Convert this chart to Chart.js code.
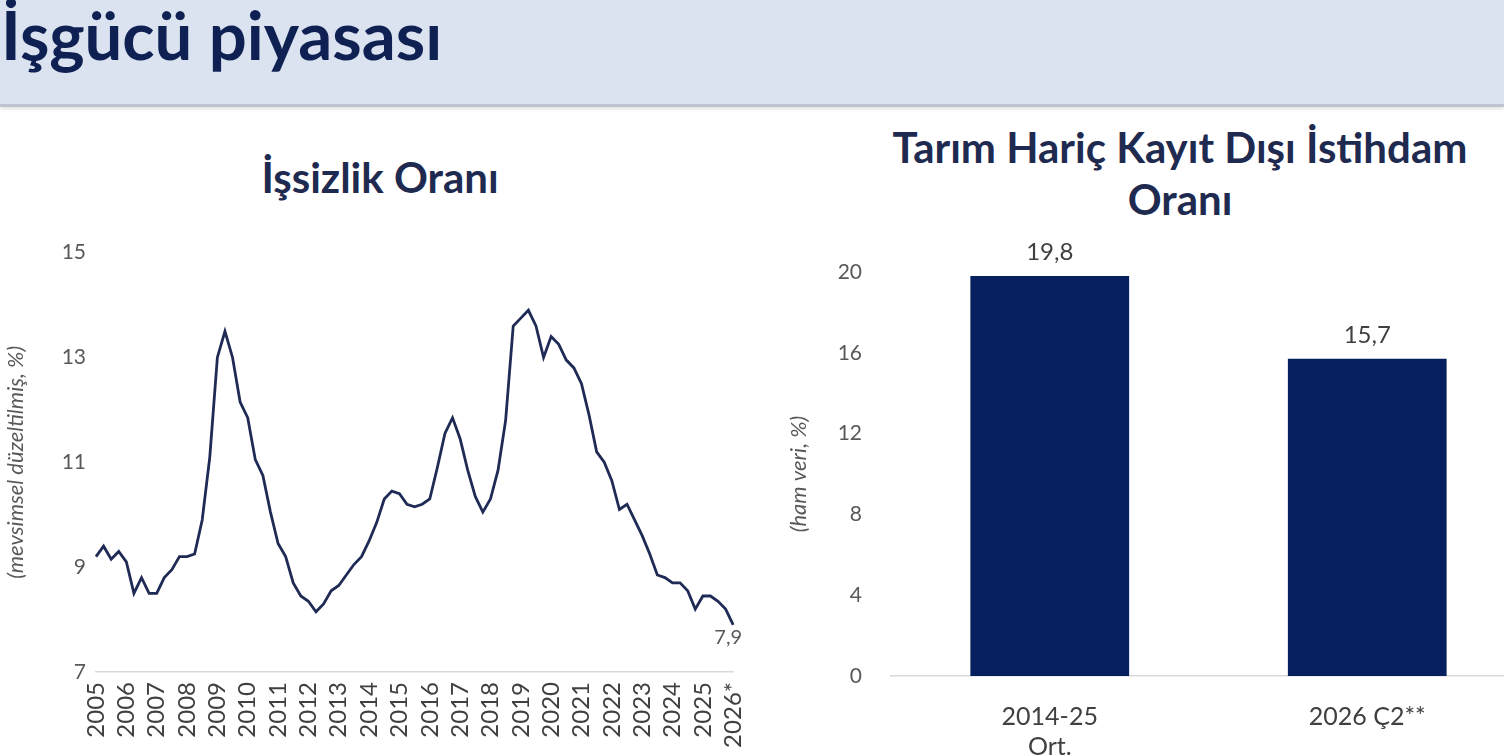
<!DOCTYPE html>
<html lang="tr">
<head>
<meta charset="utf-8">
<script src="https://cdn.jsdelivr.net/npm/chart.js@4.4.1/dist/chart.umd.min.js"></script>
<style>
  html, body { margin: 0; padding: 0; width: 1504px; height: 755px; overflow: hidden; background: #fff; font-family: Lato, sans-serif; }
  #header { position: absolute; left: 0; top: 0; width: 1504px; height: 104px; background: #dbe3f1; border-bottom: 3px solid #bcc4d0; box-shadow: 0 2px 3px rgba(0,0,0,0.12); }
  #header h1 { position: absolute; left: 1px; top: 1px; margin: 0; font: bold 67px/66px Lato, sans-serif; color: #0f2153; white-space: nowrap; }
  .title { position: absolute; text-align: center; font: bold 42px/52px Lato, sans-serif; color: #1f2a50; white-space: nowrap; }
  #box1 { position: absolute; left: 0; top: 230px; width: 772px; height: 525px; }
  #box2 { position: absolute; left: 760px; top: 230px; width: 790px; height: 525px; }
</style>
</head>
<body>
<div id="header"><h1>İşgücü piyasası</h1></div>
<div class="title" style="left:180px; top:151px; width:400px;">İşsizlik Oranı</div>
<div class="title" style="left:880px; top:121px; width:600px;">Tarım Hariç Kayıt Dışı İstihdam<br>Oranı</div>
<div id="box2"><canvas id="informalChart" width="790" height="525"></canvas></div>
<div id="box1"><canvas id="unemploymentChart" width="772" height="525"></canvas></div>

<script>
// İşsizlik oranı, çeyreklik, 2005Ç1 - 2026Ç1 (mevsimsel düzeltilmiş, %)
const yearLabels = ["2005", "2006", "2007", "2008", "2009", "2010", "2011", "2012", "2013", "2014", "2015",
  "2016", "2017", "2018", "2019", "2020", "2021", "2022", "2023", "2024", "2025", "2026*"];

const unemployment = [
  9.2, 9.4, 9.15, 9.3,     // 2005
  9.1, 8.5, 8.8, 8.5,      // 2006
  8.5, 8.8, 8.95, 9.2,     // 2007
  9.2, 9.25, 9.9, 11.1,    // 2008
  13.0, 13.5, 13.0, 12.15, // 2009
  11.85, 11.05, 10.75, 10.05, // 2010
  9.45, 9.2, 8.7, 8.45,    // 2011
  8.35, 8.15, 8.3, 8.55,   // 2012
  8.65, 8.85, 9.05, 9.2,   // 2013
  9.5, 9.85, 10.3, 10.45,  // 2014
  10.4, 10.2, 10.15, 10.2, // 2015
  10.3, 10.9, 11.55, 11.85, // 2016
  11.45, 10.85, 10.35, 10.05, // 2017
  10.3, 10.85, 11.8, 13.6, // 2018
  13.75, 13.9, 13.6, 13.0, // 2019
  13.4, 13.25, 12.95, 12.8, // 2020
  12.5, 11.9, 11.2, 11.0,  // 2021
  10.65, 10.1, 10.2, 9.9,  // 2022
  9.6, 9.25, 8.85, 8.8,    // 2023
  8.7, 8.7, 8.55, 8.2,     // 2024
  8.45, 8.45, 8.35, 8.2,   // 2025
  7.9                      // 2026
];

const unemploymentTicks = [7, 9, 11, 13, 15];

// Tarım hariç kayıt dışı istihdam oranı (ham veri, %)
const barCategories = [["2014-25", "Ort."], "2026 Ç2**"];
const barValues = [19.8, 15.7];
const barTicks = [0, 4, 8, 12, 16, 20];

const NAVY = "#1f2a55";
const BAR_NAVY = "#06205f";
const TICK_GREY = "#595959";
const LABEL_GREY = "#404040";
const AXIS_GREY = "#d9d9d9";

function formatTr(v) {
  return v.toFixed(1).replace(".", ",");
}

// one label per quarter, year name only on the first quarter
const quarterLabels = unemployment.map((v, i) => (i % 4 === 0 ? yearLabels[i / 4] : ""));

const lastPointLabel = {
  id: "lastPointLabel",
  afterDatasetsDraw(chart) {
    const meta = chart.getDatasetMeta(0);
    const pt = meta.data[meta.data.length - 1];
    const ctx = chart.ctx;
    ctx.save();
    ctx.font = "20px Lato";
    ctx.fillStyle = TICK_GREY;
    ctx.textAlign = "center";
    ctx.textBaseline = "middle";
    ctx.fillText(formatTr(unemployment[unemployment.length - 1]), pt.x - 5, pt.y + 13);
    ctx.restore();
  }
};

const barValueLabels = {
  id: "barValueLabels",
  afterDatasetsDraw(chart) {
    const meta = chart.getDatasetMeta(0);
    const ctx = chart.ctx;
    ctx.save();
    ctx.font = "24px Lato";
    ctx.fillStyle = LABEL_GREY;
    ctx.textAlign = "center";
    ctx.textBaseline = "middle";
    meta.data.forEach((bar, i) => {
      ctx.fillText(formatTr(barValues[i]), bar.x, bar.y - 24);
    });
    ctx.restore();
  }
};

function buildUnemploymentChart() {
  new Chart(document.getElementById("unemploymentChart"), {
    type: "line",
    data: {
      labels: quarterLabels,
      datasets: [{
        data: unemployment,
        borderColor: NAVY,
        borderWidth: 2.8,
        pointRadius: 0,
        tension: 0
      }]
    },
    options: {
      responsive: false,
      animation: false,
      layout: { padding: { top: 22, right: 19, left: 0, bottom: 0 } },
      plugins: { legend: { display: false }, tooltip: { enabled: false } },
      scales: {
        x: {
          offset: false,
          grid: { display: false, drawTicks: false },
          border: { display: true, color: AXIS_GREY, width: 1.5 },
          ticks: { autoSkip: false, minRotation: 90, maxRotation: 90, padding: 10, color: LABEL_GREY, font: { family: "Lato", size: 24 } },
          afterFit: s => { s.height = 83; }
        },
        y: {
          min: unemploymentTicks[0],
          max: unemploymentTicks[unemploymentTicks.length - 1],
          grid: { display: false, drawTicks: false },
          border: { display: false },
          afterBuildTicks: s => { s.ticks = unemploymentTicks.map(v => ({ value: v })); },
          ticks: { padding: 10, color: TICK_GREY, font: { family: "Lato", size: 21 } },
          title: { display: true, text: "(mevsimsel düzeltilmiş, %)", color: TICK_GREY, font: { family: "Lato", size: 22, style: "italic" }, padding: { top: 3, bottom: 0 } },
          afterFit: s => { s.width = 96; }
        }
      }
    },
    plugins: [lastPointLabel]
  });
}

function buildInformalChart() {
  new Chart(document.getElementById("informalChart"), {
    type: "bar",
    data: {
      labels: barCategories,
      datasets: [{
        data: barValues,
        backgroundColor: BAR_NAVY,
        categoryPercentage: 1,
        barPercentage: 0.5
      }]
    },
    options: {
      responsive: false,
      animation: false,
      layout: { padding: { top: 42, right: 24, left: 26, bottom: 0 } },
      plugins: { legend: { display: false }, tooltip: { enabled: false } },
      scales: {
        x: {
          grid: { display: false, drawTicks: false },
          border: { display: true, color: AXIS_GREY, width: 1.5 },
          ticks: { padding: 26, color: LABEL_GREY, font: { family: "Lato", size: 25 } },
          afterFit: s => { s.height = 79; }
        },
        y: {
          min: barTicks[0],
          max: barTicks[barTicks.length - 1],
          grid: { display: false, drawTicks: false },
          border: { display: false },
          afterBuildTicks: s => { s.ticks = barTicks.map(v => ({ value: v })); },
          ticks: { padding: 29, color: TICK_GREY, font: { family: "Lato", size: 21 } },
          title: { display: true, text: "(ham veri, %)", color: TICK_GREY, font: { family: "Lato", size: 22, style: "italic" }, padding: { top: 0, bottom: 0 } },
          afterFit: s => { s.width = 105; }
        }
      }
    },
    plugins: [barValueLabels]
  });
}

document.addEventListener("DOMContentLoaded", () => {
  buildUnemploymentChart();
  buildInformalChart();
});
</script>
</body>
</html>
